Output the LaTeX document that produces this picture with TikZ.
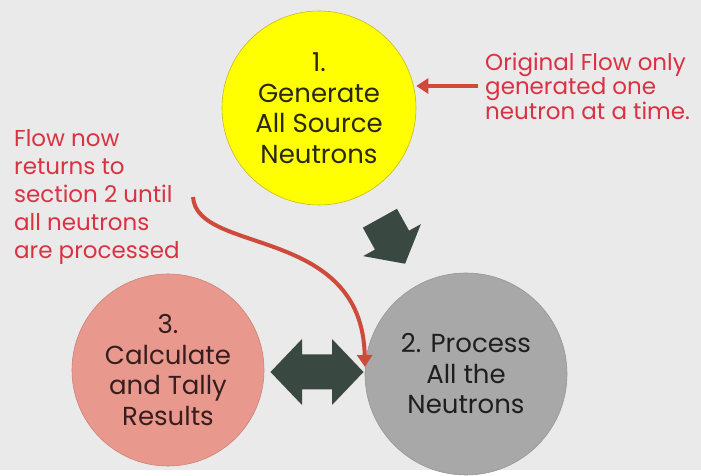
\documentclass[tikz,border=0pt]{standalone}
\usepackage{fontspec}
\setmainfont{Poppins}
\usetikzlibrary{arrows.meta,calc}

\definecolor{bgGray}{RGB}{234,234,234}
\definecolor{genYellow}{RGB}{255,255,0}
\definecolor{genEdge}{RGB}{200,185,40}
\definecolor{procGray}{RGB}{168,168,168}
\definecolor{procEdge}{RGB}{150,150,150}
\definecolor{tallyPink}{RGB}{232,152,140}
\definecolor{tallyEdge}{RGB}{205,130,120}
\definecolor{noteRed}{RGB}{218,50,66}
\definecolor{flowRed}{RGB}{206,74,58}
\definecolor{blockGreen}{RGB}{58,72,66}

\tikzset{
  stage/.style={circle, inner sep=0pt, align=center, line width=0.6pt,
    font=\fontsize{26}{30.5}\selectfont},
  note/.style={anchor=west, align=left, inner sep=0pt, text=noteRed,
    font=\fontsize{23}{24.5}\selectfont},
  flow/.style={draw=flowRed, line width=4pt, -{Triangle[length=12pt,width=15pt]}},
  block/.style={fill=blockGreen},
}

\begin{document}
\begin{tikzpicture}[x=1pt, y=1pt]
  \fill[bgGray] (0,0) rectangle (701,470);

  % the three stages
  \node[stage, fill=genYellow, draw=genEdge, minimum size=194pt, text={rgb,255:red,40;green,40;blue,20}]
    (gen) at (319,362) {1.\\Generate\\All Source\\Neutrons};
  \node[stage, fill=procGray, draw=procEdge, minimum size=202pt, text={rgb,255:red,30;green,30;blue,30}]
    (proc) at (466,96) {2. Process\\All the\\Neutrons};
  \node[stage, fill=tallyPink, draw=tallyEdge, minimum size=192pt, text={rgb,255:red,55;green,30;blue,30}]
    (tally) at (168,100) {3.\\Calculate\\and Tally\\Results};

  % block arrows between stages
  \coordinate (genproc) at ($(gen)!0.5!(proc)$);
  \coordinate (tallyproc) at ($(tally)!0.5!(proc)$);
  \fill[block, shift={(genproc)}, rotate=-61]
    (-26,19.5) -- (-1,19.5) -- (-1,33) -- (26,0) -- (-1,-33) -- (-1,-19.5) -- (-26,-19.5) -- cycle;
  \fill[block, shift={(tallyproc)}]
    (-46.5,0) -- (-15,33) -- (-15,17.5) -- (15,17.5) -- (15,33) -- (46.5,0)
    -- (15,-33) -- (15,-17.5) -- (-15,-17.5) -- (-15,-33) -- cycle;

  % notes
  \node[note] (orig) at (485,384) {Original Flow only\\generated one\\neutron at a time.};
  \node[note, font=\fontsize{23}{28}\selectfont] (loop) at (14,273)
    {Flow now\\returns to\\section 2 until\\all neutrons\\are processed};

  \draw[flow] ($(orig.west)+(-7,0)$) -- (orig.west -| gen.east);
  \coordinate (loopstart) at (193,273);
  \draw[flow] (loopstart) .. controls (197,215) and (362,245) .. (proc.176);
\end{tikzpicture}
\end{document}
